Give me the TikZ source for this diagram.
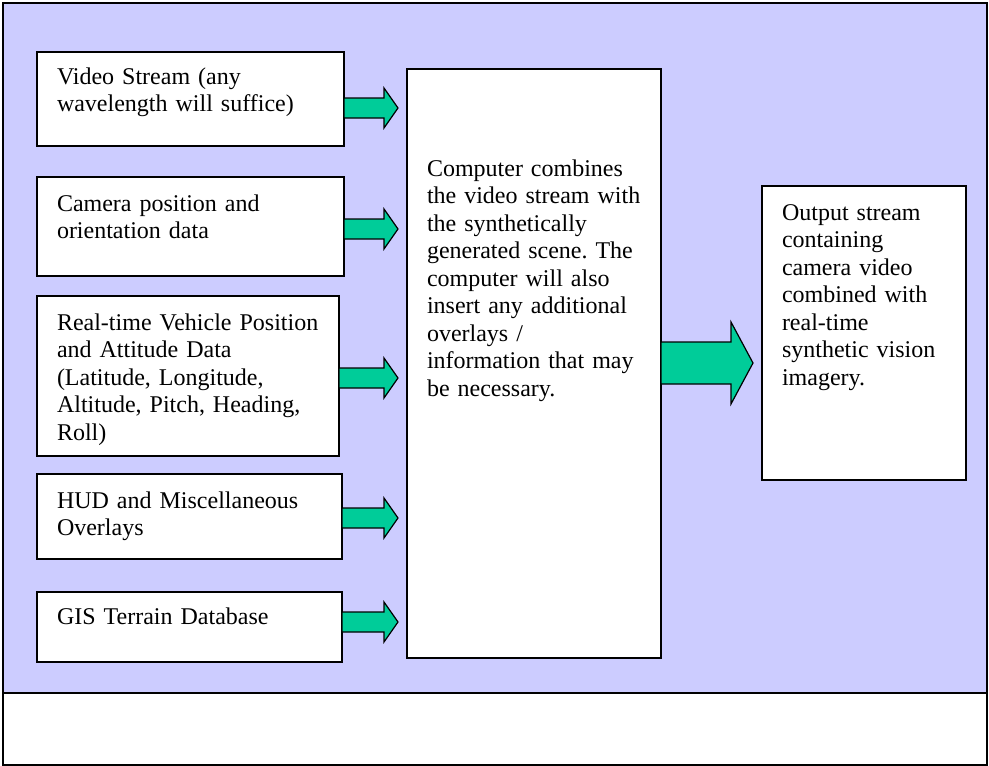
\documentclass[tikz,border=0pt]{standalone}
\usepackage{fontspec}
\setmainfont{Liberation Serif}
\usetikzlibrary{calc}
\frenchspacing

\definecolor{panelblue}{RGB}{204,204,255}
\definecolor{feedgreen}{RGB}{0,204,153}

% fat outlined arrow: from, to, tip y, half shaft, half head, head length
\newcommand{\feed}[6]{%
  \draw[feedarrow] let \p1=(#1.east), \p2=(#2.west), \p3=(0,#3) in
    (\x1,\y3+#4) -- (\x2-#6-9pt,\y3+#4) -- (\x2-#6-9pt,\y3+#5)
    -- (\x2-9pt,\y3) -- (\x2-#6-9pt,\y3-#5) -- (\x2-#6-9pt,\y3-#4)
    -- (\x1,\y3-#4) -- cycle;}

\begin{document}
\begin{tikzpicture}[
    x=1pt, y=-1pt,
    box/.style={draw, fill=white, line width=1.2pt, anchor=north west,
      outer sep=0pt, inner xsep=20pt, inner ysep=0pt, align=left,
      font=\fontsize{24}{27.5}\selectfont},
    feedarrow/.style={draw, fill=feedgreen, line width=1.2pt, line join=miter},
    frame/.style={line width=1.8pt}
    ]

    \useasboundingbox (0,0) rectangle (989,766);

    % panel
    \fill[panelblue] (3,3) rectangle (987,693);
    \draw[frame] (3,3) rectangle (987,765);
    \draw[frame] (3,693) -- (987,693);

    % inputs
    \node[box, text width=267pt, text height=32pt, text depth=62pt] (vid) at (37,52)
        {Video Stream (any\\wavelength will suffice)};
    \node[box, text width=267pt, text height=34pt, text depth=65pt] (cam) at (37,177)
        {Camera position and\\orientation data};
    \node[box, text width=262pt, text height=34pt, text depth=126pt] (veh) at (37,296)
        {Real-time Vehicle Position\\and Attitude Data\\(Latitude, Longitude,\\Altitude, Pitch, Heading,\\Roll)};
    \node[box, text width=265pt, text height=34pt, text depth=51pt] (hud) at (37,474)
        {HUD and Miscellaneous\\Overlays};
    \node[box, text width=265pt, text height=32pt, text depth=38pt] (gis) at (37,592)
        {GIS Terrain Database};

    % computer and output
    \node[box, text width=214pt, text height=107pt, text depth=482pt] (comp) at (407,69)
        {Computer combines\\the video stream with\\the synthetically\\generated scene. The\\computer will also\\insert any additional\\overlays /\\information that may\\be necessary.};
    \node[box, text width=164pt, text height=34pt, text depth=260pt] (out) at (762,186)
        {Output stream\\containing\\camera video\\combined with\\real-time\\synthetic vision\\imagery.};

    \feed{vid}{comp}{108}{10pt}{20pt}{14pt}
    \feed{cam}{comp}{229}{10pt}{20pt}{14pt}
    \feed{veh}{comp}{378}{10pt}{20pt}{14pt}
    \feed{hud}{comp}{518}{10pt}{20pt}{14pt}
    \feed{gis}{comp}{622}{10pt}{20pt}{14pt}
    \feed{comp}{out}{363}{21pt}{41pt}{22pt}

\end{tikzpicture}
\end{document}
